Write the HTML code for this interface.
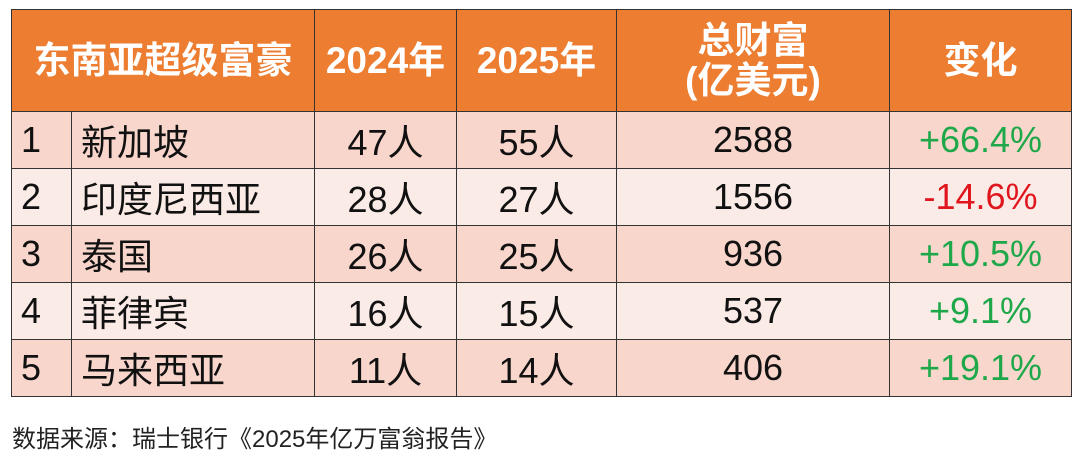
<!DOCTYPE html>
<html><head><meta charset="utf-8"><style>
body{margin:0;width:1080px;height:460px;background:#fff;position:relative;overflow:hidden;font-family:"Liberation Sans","Noto Sans CJK SC",sans-serif;}
table{position:absolute;left:11px;top:9px;border-collapse:collapse;table-layout:fixed;}
td{border:1.5px solid #333;padding:0;text-align:center;font-size:36px;color:#111;white-space:nowrap;overflow:hidden;}
tr.h td{background:#ED7D31;color:#fff;font-weight:bold;height:101px;font-size:37px;line-height:40px;}
tr.a td{background:#F8D6CC;height:56px;}
tr.b td{background:#FBEBE7;height:56px;}
td.l{text-align:left;padding-left:9px;}
.g{color:#1FA84A}.r{color:#E0161E}
.src{position:absolute;left:12px;top:419px;font-size:24px;color:#222;}
</style></head><body>
<table>
<colgroup><col style="width:60px"><col style="width:243px"><col style="width:142px"><col style="width:160px"><col style="width:273px"><col style="width:182px"></colgroup>
<tr class="h"><td colspan="2">东南亚超级富豪</td><td>2024年</td><td>2025年</td><td>总财富<br>(亿美元)</td><td>变化</td></tr>
<tr class="a"><td class="l">1</td><td class="l">新加坡</td><td>47人</td><td>55人</td><td>2588</td><td class="g">+66.4%</td></tr>
<tr class="b"><td class="l">2</td><td class="l">印度尼西亚</td><td>28人</td><td>27人</td><td>1556</td><td class="r">-14.6%</td></tr>
<tr class="a"><td class="l">3</td><td class="l">泰国</td><td>26人</td><td>25人</td><td>936</td><td class="g">+10.5%</td></tr>
<tr class="b"><td class="l">4</td><td class="l">菲律宾</td><td>16人</td><td>15人</td><td>537</td><td class="g">+9.1%</td></tr>
<tr class="a"><td class="l">5</td><td class="l">马来西亚</td><td>11人</td><td>14人</td><td>406</td><td class="g">+19.1%</td></tr>
</table>
<div class="src">数据来源：瑞士银行《2025年亿万富翁报告》</div>
</body></html>
